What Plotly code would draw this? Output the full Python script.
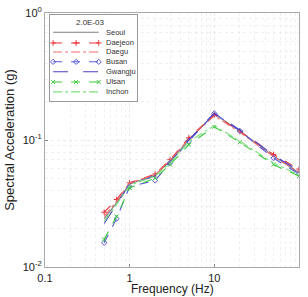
import plotly.graph_objects as go

freqs = [0.5, 0.7, 1, 2, 3, 5, 10, 20, 50, 100]
seoul = [0.024, 0.032, 0.045, 0.053, 0.068, 0.100, 0.160, 0.118, 0.075, 0.055]
daejeon = [0.027, 0.034, 0.046, 0.054, 0.070, 0.104, 0.158, 0.117, 0.077, 0.059]
daegu = [0.025, 0.033, 0.046, 0.053, 0.069, 0.102, 0.155, 0.115, 0.074, 0.056]
busan = [0.0155, 0.024, 0.043, 0.048, 0.066, 0.098, 0.162, 0.118, 0.072, 0.054]
gwangju = [0.022, 0.031, 0.045, 0.052, 0.067, 0.100, 0.163, 0.120, 0.076, 0.057]
ulsan = [0.0165, 0.025, 0.042, 0.050, 0.064, 0.092, 0.127, 0.096, 0.064, 0.052]
inchon = [0.023, 0.031, 0.044, 0.052, 0.066, 0.097, 0.130, 0.098, 0.066, 0.053]

names = ["Seoul", "Daejeon", "Daegu", "Busan", "Gwangju", "Ulsan", "Inchon"]
legend_title = "2.0E-03"
x_title = "Frequency (Hz)"
series = [seoul, daejeon, daegu, busan, gwangju, ulsan, inchon]
styles = [
    dict(color="#7f7f7f", dash="solid", symbol=None),
    dict(color="#e8323c", dash="dash", symbol="cross-thin-open"),
    dict(color="#f26d6d", dash="dashdot", symbol=None),
    dict(color="#5a5ad8", dash="dash", symbol="diamond-open"),
    dict(color="#4b3fc4", dash="longdash", symbol=None),
    dict(color="#3cc83c", dash="dash", symbol="x-thin-open"),
    dict(color="#7ee07e", dash="dashdot", symbol=None),
]

fig = go.Figure()
for n, s, st in zip(names, series, styles):
    mode = "lines+markers" if st["symbol"] else "lines"
    kw = {}
    if st["symbol"]:
        kw["marker"] = dict(symbol=st["symbol"], size=4, color=st["color"],
                            line=dict(color=st["color"], width=1))
    fig.add_trace(go.Scatter(x=freqs, y=s, name=n, mode=mode, showlegend=False,
                             line=dict(color=st["color"], dash=st["dash"], width=1.1),
                             **kw))

# Inset legend drawn on a small auxiliary axis
row_y = [0.80, 0.675, 0.57, 0.455, 0.34, 0.22, 0.105]
for n, st, yy in zip(names, styles, row_y):
    xs = [0.035, 0.30, 0.56]
    mode = "lines+markers" if st["symbol"] else "lines"
    kw = {}
    if st["symbol"]:
        kw["marker"] = dict(symbol=st["symbol"], size=4, color=st["color"],
                            line=dict(color=st["color"], width=1))
    fig.add_trace(go.Scatter(x=xs, y=[yy] * 3, mode=mode, xaxis="x2", yaxis="y2",
                             showlegend=False, hoverinfo="skip",
                             line=dict(color=st["color"], dash=st["dash"], width=1.1),
                             **kw))
    fig.add_annotation(x=0.62, y=yy, xref="x2", yref="y2", text=n, showarrow=False,
                       xanchor="left", yanchor="middle",
                       font=dict(size=7.5, color="#333"))
fig.add_annotation(x=0.46, y=0.915, xref="x2", yref="y2", text=legend_title,
                   showarrow=False, xanchor="center", yanchor="middle",
                   font=dict(size=8, color="#333"))
fig.add_annotation(x=0.5, y=-0.088, xref="paper", yref="paper", text=x_title,
                   showarrow=False, xanchor="center", yanchor="middle",
                   font=dict(size=12, color="#222"))

grid = "rgba(228,228,228,0.55)"
fig.update_layout(
    width=308, height=297,
    margin=dict(l=45, r=9, t=13, b=30),
    paper_bgcolor="white", plot_bgcolor="white",
    font=dict(family="Liberation Sans, Arial, sans-serif", size=11, color="#222"),
    showlegend=False,
    xaxis=dict(
        type="log", range=[-1, 2], automargin=False,
        tickvals=[0.1, 1, 10, 100], ticktext=["0.1", "1", "10", "100"],
        ticks="inside", ticklen=3, tickcolor="#888", ticklabelstandoff=1,
        showline=True, linecolor="#aaa", mirror=True,
        showgrid=True, gridcolor=grid, griddash="dot",
        minor=dict(showgrid=True, gridcolor=grid, griddash="dot", ticks="", dtick="D1"),
        zeroline=False,
    ),
    yaxis=dict(
        type="log", range=[-2, 0], automargin=False,
        tickvals=[0.01, 0.1, 1],
        ticktext=["10<sup>-2</sup>", "10<sup>-1</sup>", "10<sup>0</sup>"],
        ticks="inside", ticklen=3, tickcolor="#888",
        showline=True, linecolor="#aaa", mirror=True,
        showgrid=True, gridcolor=grid, griddash="dot",
        minor=dict(showgrid=True, gridcolor=grid, griddash="dot", ticks="", dtick="D1"),
        title=dict(text="Spectral Acceleration (g)", standoff=5),
        zeroline=False,
    ),
    xaxis2=dict(domain=[0.02, 0.362], range=[0, 1], anchor="y2",
                showline=True, linecolor="#999", mirror=True, linewidth=1,
                showgrid=False, zeroline=False, showticklabels=False, ticks=""),
    yaxis2=dict(domain=[0.654, 0.992], range=[0, 1], anchor="x2",
                showline=True, linecolor="#999", mirror=True, linewidth=1,
                showgrid=False, zeroline=False, showticklabels=False, ticks=""),
)
fig.add_shape(type="rect", xref="x2 domain", yref="y2 domain", x0=0, x1=1, y0=0, y1=1,
              fillcolor="white", line=dict(width=0), layer="below")
fig.write_html("out.html")
